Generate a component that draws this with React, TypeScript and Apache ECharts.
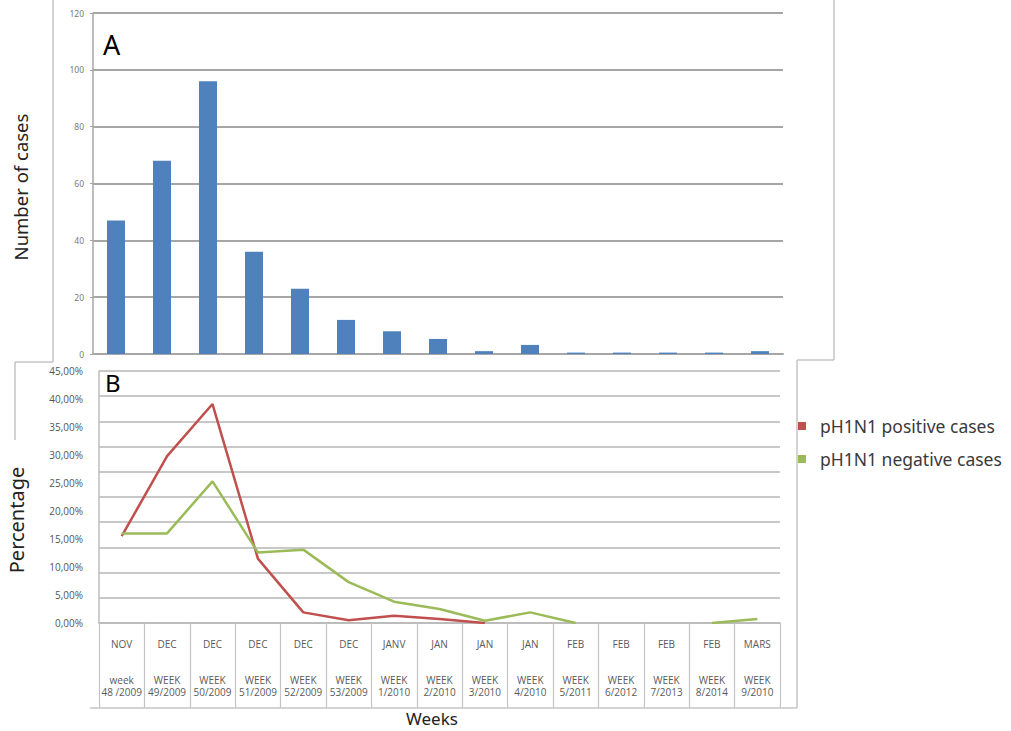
import React, { useEffect, useRef } from "react";
import * as echarts from "echarts";

// ---- data ----
const weekMonths = ["NOV", "DEC", "DEC", "DEC", "DEC", "DEC", "JANV", "JAN", "JAN", "JAN", "FEB", "FEB", "FEB", "FEB", "MARS"];
const weekWords = ["week", "WEEK", "WEEK", "WEEK", "WEEK", "WEEK", "WEEK", "WEEK", "WEEK", "WEEK", "WEEK", "WEEK", "WEEK", "WEEK", "WEEK"];
const weekNumbers = ["48 /2009", "49/2009", "50/2009", "51/2009", "52/2009", "53/2009", "1/2010", "2/2010", "3/2010", "4/2010", "5/2011", "6/2012", "7/2013", "8/2014", "9/2010"];
const cases = [47, 68, 96, 36, 23, 12, 8, 5.3, 1, 3.2, 0.5, 0.5, 0.5, 0.5, 1];
const positivePct = [15.5, 29.8, 39.1, 11.5, 1.9, 0.5, 1.3, 0.7, 0, null, null, null, null, null, null];
const negativePct = [16, 16, 25.3, 12.6, 13.1, 7.3, 3.8, 2.5, 0.4, 1.9, 0, null, null, 0, 0.7];
const casesAxis = { min: 0, max: 120, interval: 20 };
const pctAxis = { min: 0, max: 45, interval: 5 };
const pctGridAxis = { min: 0, max: 10, interval: 1 };
const seriesNames = ["pH1N1 positive cases", "pH1N1 negative cases"];

const categories = weekMonths.map((m, i) => `${m}\n\n\n${weekWords[i]}\n${weekNumbers[i]}`);

const FONT = "'Noto Sans', 'Liberation Sans', sans-serif";
const BORDER = "#c4c4c4";

export default function App() {
  const ref = useRef<HTMLDivElement>(null);
  useEffect(() => {
    if (!ref.current) return;
    const chart = echarts.init(ref.current, null, { renderer: "svg" });
    const line = (x1: number, y1: number, x2: number, y2: number) => ({
      type: "line",
      shape: { x1, y1, x2, y2 },
      style: { stroke: BORDER, lineWidth: 1.5 },
      silent: true,
    });
    chart.setOption({
      animation: false,
      backgroundColor: "#ffffff",
      grid: [
        { left: 93, top: 13, width: 690, height: 341 },
        { left: 99, top: 371, width: 681, height: 252 },
      ],
      xAxis: [
        {
          type: "category",
          gridIndex: 0,
          data: categories,
          axisLabel: { show: false },
          axisTick: { show: false },
          axisLine: { lineStyle: { color: "#a6a6a6", width: 2 } },
        },
        {
          type: "category",
          gridIndex: 1,
          data: categories,
          boundaryGap: true,
          axisLine: { lineStyle: { color: "#b8b8b8", width: 1.5 } },
          axisTick: { show: true, length: 85, lineStyle: { color: "#c4c4c4", width: 1.2 } },
          axisLabel: {
            interval: 0,
            margin: 15,
            fontSize: 10,
            lineHeight: 12,
            color: "#5a5a5a",
            fontFamily: "'Open Sans', sans-serif",
          },
        },
      ],
      yAxis: [
        {
          type: "value",
          gridIndex: 0,
          ...casesAxis,
          axisLine: { show: true, lineStyle: { color: "#a6a6a6", width: 1.5 } },
          axisTick: { show: true, length: 3, lineStyle: { color: "#a6a6a6" } },
          axisLabel: { fontSize: 8.5, color: "#7a7a7a", margin: 9, fontFamily: FONT },
          splitLine: { lineStyle: { color: "#a6a6a6", width: 2 } },
        },
        {
          type: "value",
          gridIndex: 1,
          ...pctAxis,
          axisLine: { show: true, lineStyle: { color: "#bdbdbd", width: 1.5 } },
          axisTick: { show: false },
          axisLabel: {
            fontSize: 10,
            color: "#555555",
            margin: 16,
            fontFamily: "'Open Sans', sans-serif",
            formatter: (v: number) => v.toFixed(2).replace(".", ",") + "%",
          },
          splitLine: { show: false },
        },
        {
          type: "value",
          gridIndex: 1,
          ...pctGridAxis,
          axisLine: { show: false },
          axisTick: { show: false },
          axisLabel: { show: false },
          splitLine: { lineStyle: { color: "#c8c8c8", width: 2 } },
        },
      ],
      legend: {
        data: seriesNames,
        orient: "vertical",
        left: 798,
        top: 416,
        padding: 0,
        itemWidth: 8,
        itemHeight: 8,
        itemGap: 13,
        icon: "rect",
        textStyle: { fontSize: 17.5, lineHeight: 20, color: "#3a3a3a", fontFamily: FONT, padding: [0, 0, 0, 9] },
      },
      series: [
        {
          type: "bar",
          name: "Number of cases",
          xAxisIndex: 0,
          yAxisIndex: 0,
          data: cases,
          barWidth: 18,
          itemStyle: { color: "#4f81bd" },
        },
        {
          type: "line",
          name: seriesNames[0],
          xAxisIndex: 1,
          yAxisIndex: 1,
          data: positivePct,
          symbol: "none",
          connectNulls: false,
          lineStyle: { color: "#c0504d", width: 2.5 },
          itemStyle: { color: "#c0504d" },
        },
        {
          type: "line",
          name: seriesNames[1],
          xAxisIndex: 1,
          yAxisIndex: 1,
          data: negativePct,
          symbol: "none",
          connectNulls: false,
          lineStyle: { color: "#9bbb59", width: 2.5 },
          itemStyle: { color: "#9bbb59" },
        },
      ],
      graphic: [
        line(53, 0, 53, 362),
        line(834, 0, 834, 360),
        line(797, 360, 834, 360),
        line(15, 362, 53, 362),
        line(15, 362, 15, 440),
        line(797, 360, 797, 708),
        line(90, 708, 797, 708),
        {
          type: "text",
          x: 103,
          y: 44,
          style: { text: "A", fontSize: 27, fontFamily: FONT, fill: "#000", textVerticalAlign: "middle" },
        },
        {
          type: "text",
          x: 105,
          y: 382,
          style: { text: "B", fontSize: 24, fontFamily: FONT, fill: "#000", textVerticalAlign: "middle" },
        },
        {
          type: "text",
          x: 20,
          y: 187,
          rotation: Math.PI / 2,
          style: {
            text: "Number of cases",
            fontSize: 18.5,
            fontFamily: FONT,
            fill: "#222",
            textAlign: "center",
            textVerticalAlign: "middle",
          },
        },
        {
          type: "text",
          x: 16,
          y: 520,
          rotation: Math.PI / 2,
          style: {
            text: "Percentage",
            fontSize: 20,
            fontFamily: FONT,
            fill: "#222",
            textAlign: "center",
            textVerticalAlign: "middle",
          },
        },
        {
          type: "text",
          x: 432,
          y: 718,
          style: {
            text: "Weeks",
            fontSize: 17,
            fontFamily: FONT,
            fill: "#222",
            textAlign: "center",
            textVerticalAlign: "middle",
          },
        },
      ],
    });
    return () => chart.dispose();
  }, []);
  return (
    <div
      ref={ref}
      style={{ position: "absolute", left: 0, top: 0, width: 1011, height: 731 }}
    />
  );
}
